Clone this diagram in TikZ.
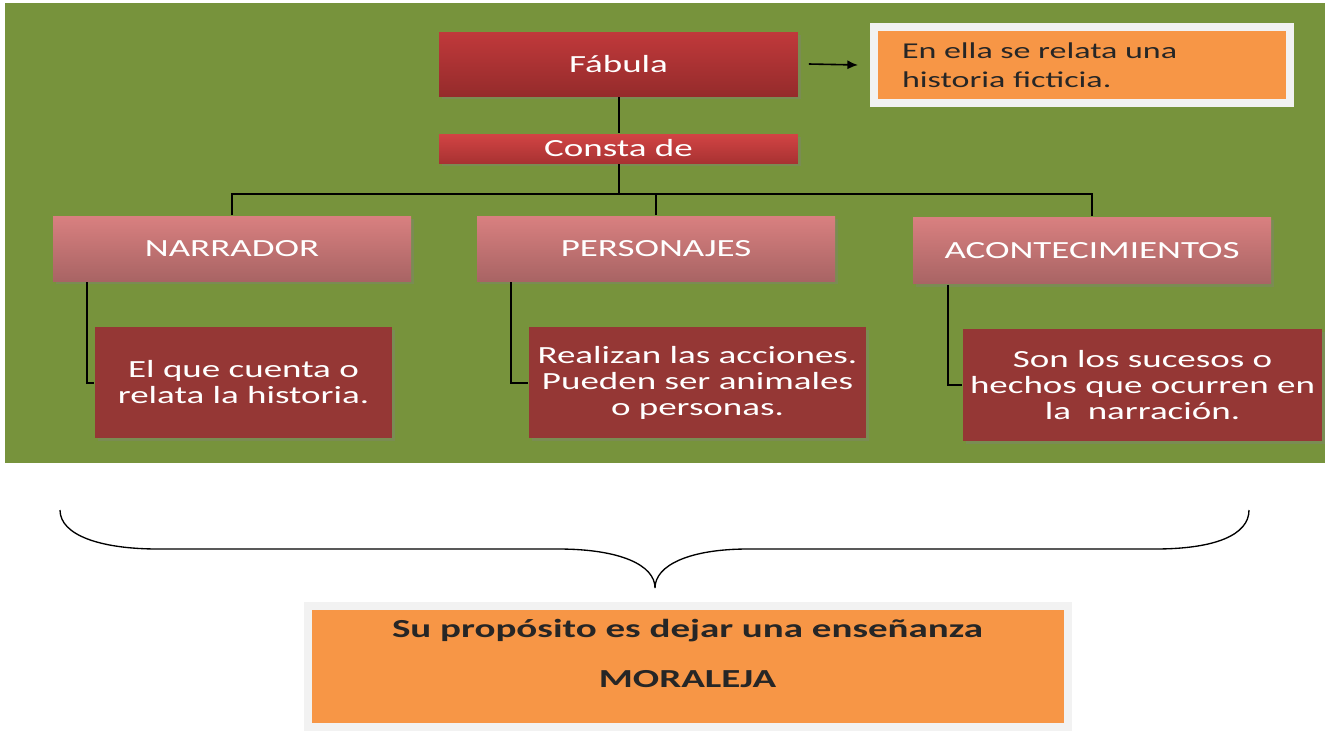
\documentclass[tikz,border=0pt]{standalone}
\usepackage{fontspec}
\setmainfont{Carlito}[FakeStretch=1.5]
\usetikzlibrary{arrows.meta, shadows, positioning}
\definecolor{verde}{HTML}{77933C}
\definecolor{rojoarriba}{HTML}{C0393B}
\definecolor{rojoabajo}{HTML}{952B2B}
\definecolor{constaarriba}{HTML}{D24444}
\definecolor{constaabajo}{HTML}{A83232}
\definecolor{rosaarriba}{HTML}{D98080}
\definecolor{rosaabajo}{HTML}{A86464}
\definecolor{granate}{HTML}{953735}
\definecolor{naranja}{HTML}{F79646}
\definecolor{marco}{HTML}{F2F2F2}
\tikzset{%
>={Latex[width=2.4mm,length=2.8mm]},
  % Specifications for style of nodes:
            caja/.style = {rectangle, text=white, align=center, inner sep=2pt,
                            font=\fontsize{18.5}{19.5}\selectfont,
                            drop shadow={opacity=0.35, shadow xshift=2pt, shadow yshift=-2pt}},
            titulo/.style = {caja, top color=rojoarriba, bottom color=rojoabajo,
                            minimum width=269pt},
            categoria/.style = {caja, top color=rosaarriba, bottom color=rosaabajo,
                            minimum width=268.5pt, minimum height=48.75pt},
            detalle/.style = {caja, fill=granate, minimum height=83.25pt},
            nota/.style = {rectangle, fill=naranja, draw=marco, line width=6pt,
                            text=black!85, drop shadow={opacity=0.2, shadow xshift=2pt, shadow yshift=-2pt}}
}

\begin{document}
\begin{tikzpicture}[x=0.75pt, y=-0.75pt, line width=1.5pt]
\useasboundingbox (0,0) rectangle (1330,732);
\fill[verde] (5,3) rectangle (1325,463);
                        \node[titulo, minimum height=48pt] (fab) at (618.5,64) {Fábula};
                        \node[titulo, top color=constaarriba, bottom color=constaabajo,
                              minimum height=21.75pt, inner sep=0pt] (cons) at (618.5,148.5) {Consta de};
                        \node[categoria] (nar) at (232,248.5) {NARRADOR};
                        \node[categoria] (per) at (656,248.5) {PERSONAJES};
                        \node[categoria, minimum height=50pt] (aco) at (1092,250.5) {ACONTECIMIENTOS};
                        \node[detalle, minimum width=222.75pt] (d1) at (243.5,382.5) {El que cuenta o\\relata la historia.};
                        \node[detalle, minimum width=252.75pt] (d2) at (697.5,382.5) {Realizan las acciones.\\Pueden ser animales\\o personas.};
                        \node[detalle, minimum width=269.25pt, minimum height=84pt] (d3) at (1142.5,385) {Son los sucesos o\\hechos que ocurren en\\la~ narración.};
                        \node[nota, text width=270pt, inner xsep=21pt, minimum height=57pt, align=left,
                              font=\fontsize{17}{21.75}\selectfont] (ficc) at (1082,65) {En ella se relata una\\historia ficticia.};
                        \node[nota, minimum width=570pt, minimum height=90.75pt, align=center, text depth=20pt,
                              font=\bfseries\fontsize{19.5}{23.5}\selectfont] (mor) at (687.5,666.5)
                              {Su propósito es dejar una enseñanza\\[14pt]MORALEJA};
                        \draw (fab) -- (cons);
                        \draw (cons.south) -- ++(0,30) coordinate (bus);
                        \draw (nar.north) |- (bus) -| (aco.north);
                        \draw (per.north) -- (per.north |- bus);
                        \draw ([xshift=26.25pt]nar.south west) |- (d1.west);
                        \draw ([xshift=26.25pt]per.south west) |- (d2.west);
                        \draw ([xshift=27pt]aco.south west) |- (d3.west);
                        \draw[->, line width=1.2pt] ([xshift=7.5pt]fab.east) -- ([xshift=-9pt]ficc.west);
                        % llave
                        \draw[line width=1pt] (60,510) .. controls (60,535) and (100,549) .. (158,549) -- (558,549)
                              .. controls (620,549) and (655,565) .. (655,588)
                              .. controls (655,565) and (690,549) .. (748,549) -- (1155,549)
                              .. controls (1215,549) and (1249,535) .. (1249,510);
                    \end{tikzpicture}
\end{document}
